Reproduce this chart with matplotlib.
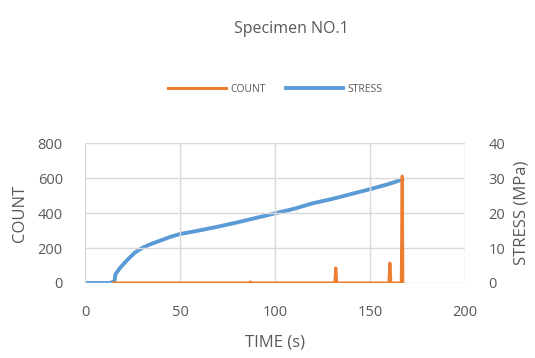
import matplotlib.pyplot as plt

plt.rcParams['font.family'] = ['Open Sans', 'DejaVu Sans']

# Stress (MPa) vs time (s)
stress_t = [0, 13, 15.5, 16, 18, 20, 23, 26, 30, 34, 38, 45, 50, 60, 70, 80, 90,
            100, 110, 115, 120, 130, 140, 150, 160, 165, 167]
stress_v = [0, 0, 0.5, 2.5, 4, 5.3, 7, 8.6, 10, 11, 11.8, 13.2, 14, 15, 16.1, 17.3, 18.6,
            19.9, 21.2, 22, 22.8, 24, 25.4, 26.8, 28.3, 29.2, 29.7]

# AE count vs time (s)
count_t = [15, 86.5, 87, 87.5, 131.5, 132, 132.5, 160, 160.5, 161, 166.5, 167, 167.3]
count_v = [0, 0, 6, 0, 0, 86, 0, 0, 114, 0, 0, 611, 0]

grey = '#595959'
fig = plt.figure(figsize=(5.35, 3.58), dpi=100)
ax = fig.add_axes([0.159, 0.2095, 0.71, 0.391])
ax2 = ax.twinx()

ax.plot(count_t, count_v, color='#ED7D31', linewidth=2.2, label='COUNT', zorder=3)
ax2.plot(stress_t, stress_v, color='#5B9BD5', linewidth=2.8, label='STRESS', zorder=2)

ax.set_xlim(0, 200)
ax.set_ylim(0, 800)
ax2.set_ylim(0, 40)
ax.set_xticks([0, 50, 100, 150, 200])
ax.set_yticks([0, 200, 400, 600, 800])
ax2.set_yticks([0, 10, 20, 30, 40])
ax.grid(True, color='#d9d9d9', linewidth=1)
ax.set_axisbelow(True)
ax.set_zorder(ax2.get_zorder() + 1)
ax.patch.set_visible(False)

for a in (ax, ax2):
    for s in a.spines.values():
        s.set_visible(False)
    a.tick_params(length=0, labelsize=10.5, colors=grey)
ax.tick_params(axis='y', pad=16)
ax.tick_params(axis='x', pad=16)
ax2.tick_params(axis='y', pad=17)

ax.set_xlabel('TIME (s)', fontsize=12, color=grey, labelpad=10)
ax.set_ylabel('COUNT', fontsize=12, color=grey, labelpad=7)
ax2.set_ylabel('STRESS (MPa)', fontsize=12, color=grey, labelpad=6)

fig.suptitle('Specimen NO.1', x=0.545, y=0.94, fontsize=11.5, color=grey)

h1, l1 = ax.get_legend_handles_labels()
h2, l2 = ax2.get_legend_handles_labels()
fig.legend(h1 + h2, l1 + l2, loc='center', bbox_to_anchor=(0.515, 0.75), ncol=2,
           frameon=False, fontsize=7.5, labelcolor=grey, handlelength=5.5,
           handletextpad=0.4, columnspacing=2.0)

fig.savefig('out.png', dpi=100)
